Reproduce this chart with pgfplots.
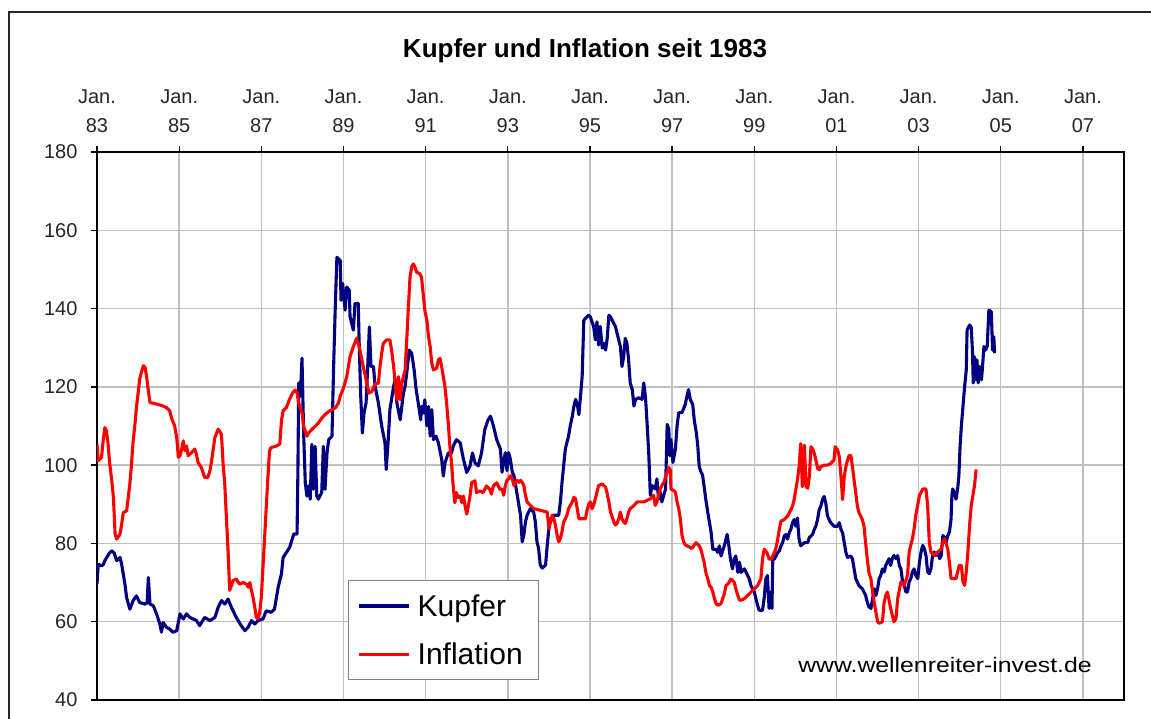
\documentclass[border=0pt]{standalone}
\usepackage{fontspec}
\setmainfont{Liberation Sans}
\usepackage{graphicx}
\usepackage{pgfplots}
\pgfplotsset{compat=1.18}
\definecolor{kupfer}{RGB}{0,0,128}
\definecolor{infl}{RGB}{255,0,0}
\definecolor{gridgray}{RGB}{192,192,192}
\begin{document}
\begin{tikzpicture}[x=1pt,y=1pt]
\useasboundingbox (0,0) rectangle (1151,719);
\fill[white] (0,0) rectangle (1151,719);
\draw[line width=2pt, black!85] (9,0) -- (9,707) -- (1151,707);
\node[font=\bfseries\fontsize{26}{30}\selectfont, anchor=base] at (585,661) {Kupfer und Inflation seit 1983};
\begin{axis}[
  at={(97pt,19pt)}, anchor=south west,
  scale only axis, width=1027pt, height=548pt,
  xmin=1983, xmax=2008, ymin=40, ymax=180,
  xtick={1983,1985,1987,1989,1991,1993,1995,1997,1999,2001,2003,2005,2007},
  xticklabels={{Jan.\\83},{Jan.\\85},{Jan.\\87},{Jan.\\89},{Jan.\\91},{Jan.\\93},{Jan.\\95},{Jan.\\97},{Jan.\\99},{Jan.\\01},{Jan.\\03},{Jan.\\05},{Jan.\\07}},
  xtick pos=right, xticklabel pos=right,
  ytick={40,60,...,180}, ytick pos=left,
  grid=major,
  major grid style={draw=gridgray, line width=1.4pt},
  axis line style={black, line width=1.5pt},
  tick style={black, line width=1.3pt},
  tick align=outside,
  major tick length=6pt,
  xticklabel style={align=center, font=\fontsize{20}{28.5}\selectfont, text=black!85, yshift=10pt},
  yticklabel style={font=\fontsize{20}{24}\selectfont, text=black!85, xshift=-10pt},
  /pgf/number format/assume math mode=true,
  legend style={at={(0.2444,0.219)}, anchor=north west, draw=gray, line width=1pt, fill=white,
    font=\fontsize{30}{36}\selectfont, inner xsep=9pt, inner ysep=11pt, row sep=19pt,
    nodes={inner xsep=7pt, inner ysep=3pt, anchor=west}},
  legend cell align=left,
  legend image code/.code={\draw[#1, line width=3.2pt] (0pt,0pt) -- (50pt,0pt);},
]
\addplot[kupfer, line width=3.1pt, line join=round] coordinates {
(1983.00,69.6)(1983.03,74.7)(1983.10,74.3)(1983.15,74.5)(1983.19,75.6)(1983.30,77.5)(1983.36,78.1)(1983.42,77.5)
(1983.48,75.6)(1983.56,76.4)(1983.60,74.7)(1983.68,69.6)(1983.72,66.2)(1983.80,63.2)(1983.88,65.4)(1983.96,66.6)
(1984.04,64.9)(1984.17,64.5)(1984.22,64.8)(1984.25,71.3)(1984.29,64.5)(1984.37,64.1)(1984.45,62.0)(1984.53,59.4)
(1984.57,57.3)(1984.61,59.8)(1984.69,58.6)(1984.77,58.1)(1984.85,57.3)(1984.94,57.7)(1985.02,62.0)(1985.10,60.7)
(1985.18,62.0)(1985.26,61.1)(1985.42,60.3)(1985.50,59.0)(1985.62,61.1)(1985.75,60.3)(1985.87,61.1)(1985.95,63.7)
(1986.03,65.4)(1986.11,64.5)(1986.19,65.8)(1986.27,63.7)(1986.39,61.1)(1986.51,59.0)(1986.60,57.7)(1986.68,58.6)
(1986.76,60.3)(1986.84,59.4)(1986.92,60.3)(1987.04,60.7)(1987.12,62.8)(1987.24,62.4)(1987.32,63.2)(1987.41,68.8)
(1987.49,72.2)(1987.53,76.4)(1987.61,77.7)(1987.69,79.0)(1987.79,82.4)(1987.87,82.4)(1987.89,98.0)(1987.91,121.0)
(1987.95,117.6)(1987.99,127.3)(1988.03,108.2)(1988.07,95.5)(1988.11,92.1)(1988.15,94.7)(1988.19,91.3)(1988.23,105.3)
(1988.27,93.8)(1988.31,104.8)(1988.35,92.1)(1988.39,91.3)(1988.47,93.0)(1988.51,104.8)(1988.55,93.8)(1988.60,103.2)
(1988.64,106.5)(1988.72,107.4)(1988.76,125.2)(1988.80,140.4)(1988.84,153.1)(1988.92,152.3)(1988.94,142.1)(1988.98,146.4)
(1989.04,139.6)(1989.08,145.5)(1989.14,144.7)(1989.16,137.9)(1989.24,134.5)(1989.28,141.3)(1989.36,141.3)(1989.38,132.0)
(1989.42,117.6)(1989.46,108.2)(1989.50,113.3)(1989.55,115.9)(1989.59,125.2)(1989.63,135.3)(1989.67,125.2)(1989.73,125.2)
(1989.77,120.1)(1989.85,115.9)(1989.93,110.0)(1990.01,105.7)(1990.04,98.9)(1990.09,106.5)(1990.13,114.2)(1990.22,120.1)
(1990.26,121.8)(1990.30,115.9)(1990.38,111.6)(1990.46,118.4)(1990.50,120.1)(1990.54,123.5)(1990.60,129.4)(1990.66,128.6)
(1990.72,124.3)(1990.77,119.2)(1990.82,115.9)(1990.88,111.6)(1990.90,115.0)(1990.94,113.3)(1990.98,116.7)(1991.03,110.0)
(1991.07,115.0)(1991.11,107.4)(1991.15,114.2)(1991.19,106.5)(1991.25,107.4)(1991.31,105.7)(1991.39,101.5)(1991.43,97.2)
(1991.47,100.6)(1991.55,103.1)(1991.63,103.1)(1991.67,104.8)(1991.75,106.5)(1991.84,105.7)(1991.92,101.5)(1992.00,98.1)
(1992.08,99.8)(1992.14,103.1)(1992.20,100.6)(1992.28,99.8)(1992.36,103.1)(1992.44,109.1)(1992.52,111.6)(1992.58,112.5)
(1992.65,110.0)(1992.73,106.5)(1992.82,104.1)(1992.86,98.2)(1992.90,100.7)(1992.94,103.2)(1992.98,98.6)(1993.02,103.2)
(1993.06,101.6)(1993.11,98.2)(1993.15,97.3)(1993.23,92.3)(1993.31,87.2)(1993.35,80.4)(1993.39,82.1)(1993.43,85.5)
(1993.47,87.2)(1993.55,88.9)(1993.63,88.0)(1993.67,85.5)(1993.71,80.4)(1993.75,78.7)(1993.79,74.5)(1993.84,73.7)
(1993.92,74.5)(1993.96,79.6)(1994.00,83.8)(1994.04,86.3)(1994.12,87.2)(1994.24,87.2)(1994.28,90.6)(1994.32,95.6)
(1994.36,99.9)(1994.40,104.1)(1994.44,105.8)(1994.48,107.5)(1994.52,110.0)(1994.57,112.5)(1994.61,115.1)(1994.65,116.8)
(1994.69,115.5)(1994.73,112.9)(1994.77,117.6)(1994.81,122.7)(1994.85,137.0)(1994.89,137.5)(1994.97,138.3)(1995.01,137.9)
(1995.05,136.6)(1995.09,135.4)(1995.13,132.0)(1995.17,136.6)(1995.21,130.7)(1995.25,135.4)(1995.30,129.9)(1995.34,131.1)
(1995.38,129.4)(1995.42,132.4)(1995.46,138.3)(1995.50,137.9)(1995.58,136.2)(1995.62,135.4)(1995.66,133.7)(1995.70,132.0)
(1995.74,130.3)(1995.78,125.2)(1995.82,127.7)(1995.86,132.4)(1995.90,131.1)(1995.94,126.9)(1995.98,121.0)(1996.03,119.3)
(1996.07,115.1)(1996.11,116.8)(1996.19,117.2)(1996.27,116.8)(1996.31,121.0)(1996.35,117.6)(1996.39,110.8)(1996.43,103.2)
(1996.47,92.3)(1996.51,94.8)(1996.59,93.9)(1996.63,96.5)(1996.67,91.4)(1996.71,93.1)(1996.75,90.6)(1996.84,93.9)
(1996.88,110.4)(1996.92,109.2)(1996.94,102.4)(1996.97,106.6)(1997.02,100.7)(1997.08,104.1)(1997.12,110.0)(1997.16,113.4)
(1997.24,113.4)(1997.32,115.5)(1997.36,117.6)(1997.40,119.3)(1997.44,116.8)(1997.50,115.6)(1997.54,111.4)(1997.58,108.9)
(1997.62,105.5)(1997.66,99.6)(1997.70,98.3)(1997.74,97.5)(1997.78,94.5)(1997.82,91.2)(1997.87,87.8)(1997.91,85.3)
(1997.95,82.7)(1997.99,78.5)(1998.07,78.5)(1998.11,77.7)(1998.15,79.4)(1998.19,76.8)(1998.27,79.4)(1998.34,82.3)
(1998.38,79.4)(1998.42,76.0)(1998.47,73.5)(1998.51,76.0)(1998.55,76.8)(1998.60,72.6)(1998.64,75.2)(1998.68,72.6)
(1998.76,73.5)(1998.80,72.6)(1998.84,71.8)(1998.88,70.9)(1998.92,69.2)(1999.00,67.6)(1999.08,64.2)(1999.12,62.9)
(1999.20,62.9)(1999.24,65.9)(1999.28,70.9)(1999.32,71.8)(1999.36,63.4)(1999.41,67.6)(1999.43,63.4)(1999.45,76.0)
(1999.49,76.0)(1999.53,76.8)(1999.57,77.7)(1999.61,78.1)(1999.65,79.4)(1999.69,80.2)(1999.73,81.9)(1999.77,82.3)
(1999.81,81.1)(1999.85,82.7)(1999.89,83.6)(1999.93,85.3)(1999.97,86.1)(2000.01,84.4)(2000.05,86.5)(2000.09,81.1)
(2000.13,79.4)(2000.22,80.2)(2000.30,80.2)(2000.34,81.5)(2000.42,82.3)(2000.46,83.6)(2000.50,84.4)(2000.54,86.1)
(2000.58,88.6)(2000.62,89.5)(2000.66,91.2)(2000.70,92.0)(2000.74,90.3)(2000.78,87.1)(2000.82,86.1)(2000.86,85.3)
(2000.94,84.4)(2001.03,84.4)(2001.07,85.3)(2001.11,83.6)(2001.15,82.7)(2001.19,80.2)(2001.23,77.7)(2001.27,76.4)
(2001.35,76.8)(2001.39,76.0)(2001.43,73.5)(2001.47,71.0)(2001.55,69.2)(2001.63,68.4)(2001.67,67.6)(2001.71,66.7)
(2001.75,65.0)(2001.79,63.8)(2001.84,63.4)(2001.88,65.9)(2001.92,68.4)(2001.96,66.7)(2002.00,68.4)(2002.04,71.0)
(2002.08,71.9)(2002.12,73.5)(2002.16,72.7)(2002.20,74.4)(2002.24,75.2)(2002.28,76.1)(2002.32,74.4)(2002.36,76.1)
(2002.40,76.9)(2002.45,76.1)(2002.49,76.9)(2002.53,74.4)(2002.57,73.5)(2002.61,70.2)(2002.65,69.3)(2002.69,67.6)
(2002.73,67.6)(2002.77,70.2)(2002.81,71.0)(2002.85,72.7)(2002.89,73.5)(2002.93,71.9)(2002.98,71.0)(2003.02,75.2)
(2003.06,77.8)(2003.10,79.5)(2003.14,78.6)(2003.18,76.9)(2003.22,72.7)(2003.26,72.3)(2003.30,73.5)(2003.34,76.9)
(2003.38,77.8)(2003.42,76.9)(2003.47,77.8)(2003.51,76.1)(2003.55,76.9)(2003.59,82.0)(2003.63,81.6)(2003.67,80.3)
(2003.71,82.0)(2003.75,82.9)(2003.79,86.2)(2003.81,92.2)(2003.83,93.9)(2003.87,93.0)(2003.91,91.3)(2003.95,93.9)
(2003.98,97.2)(2004.01,104.9)(2004.04,109.9)(2004.08,115.0)(2004.12,120.1)(2004.16,124.3)(2004.18,134.5)(2004.24,135.8)
(2004.28,135.3)(2004.31,129.4)(2004.33,121.0)(2004.36,127.7)(2004.39,121.8)(2004.42,126.9)(2004.45,121.0)(2004.49,125.2)
(2004.53,121.8)(2004.55,124.3)(2004.59,130.3)(2004.63,129.4)(2004.67,130.3)(2004.71,139.6)(2004.77,139.2)(2004.80,129.4)
(2004.83,132.8)(2004.85,128.6)
};
\addlegendentry{Kupfer}
\addplot[infl, line width=3.1pt, line join=round] coordinates {
(1983.00,105.4)(1983.03,101.1)(1983.11,102.0)(1983.15,106.2)(1983.19,109.6)(1983.23,108.8)(1983.27,105.4)(1983.31,100.3)
(1983.36,96.0)(1983.40,91.7)(1983.44,82.4)(1983.48,81.1)(1983.56,82.4)(1983.60,84.9)(1983.64,87.9)(1983.72,88.3)
(1983.76,91.7)(1983.80,95.2)(1983.84,100.3)(1983.88,106.2)(1983.92,110.0)(1983.96,114.7)(1984.04,122.0)(1984.08,123.7)
(1984.13,125.4)(1984.17,125.0)(1984.21,122.4)(1984.25,119.0)(1984.29,116.0)(1984.45,115.6)(1984.61,115.1)(1984.69,114.7)
(1984.77,113.9)(1984.81,112.2)(1984.89,110.0)(1984.94,107.1)(1984.98,102.0)(1985.02,102.4)(1985.06,104.1)(1985.10,106.2)
(1985.14,103.7)(1985.18,104.9)(1985.22,102.4)(1985.30,103.2)(1985.38,104.1)(1985.42,102.8)(1985.46,100.7)(1985.54,99.4)
(1985.62,96.9)(1985.70,96.9)(1985.75,98.6)(1985.79,101.1)(1985.83,104.1)(1985.87,107.1)(1985.95,109.2)(1986.03,107.9)
(1986.07,100.3)(1986.11,95.2)(1986.15,86.6)(1986.19,78.1)(1986.23,68.0)(1986.27,69.2)(1986.31,70.5)(1986.39,70.9)
(1986.47,69.6)(1986.56,70.0)(1986.64,69.6)(1986.68,68.8)(1986.72,70.0)(1986.76,68.0)(1986.80,66.2)(1986.84,63.7)
(1986.88,61.1)(1986.92,60.7)(1986.96,62.4)(1987.00,66.2)(1987.04,73.9)(1987.08,81.5)(1987.12,89.2)(1987.16,96.9)
(1987.20,103.7)(1987.24,104.5)(1987.37,104.9)(1987.45,105.4)(1987.49,111.3)(1987.53,113.9)(1987.61,114.7)(1987.69,116.9)
(1987.77,118.6)(1987.83,119.2)(1987.87,118.4)(1987.91,115.9)(1987.99,113.3)(1988.03,109.9)(1988.07,108.7)(1988.11,107.4)
(1988.15,108.2)(1988.23,109.1)(1988.31,109.9)(1988.39,110.8)(1988.47,112.0)(1988.55,112.9)(1988.64,113.7)(1988.72,114.2)
(1988.80,114.6)(1988.88,115.9)(1988.92,117.6)(1989.00,119.7)(1989.08,122.6)(1989.12,125.2)(1989.16,127.7)(1989.24,130.3)
(1989.32,132.4)(1989.36,131.1)(1989.40,129.4)(1989.45,126.9)(1989.50,124.3)(1989.57,120.9)(1989.62,118.4)(1989.69,118.8)
(1989.77,120.8)(1989.85,120.9)(1989.89,125.2)(1989.93,128.6)(1989.97,131.1)(1990.05,132.0)(1990.13,132.0)(1990.17,129.4)
(1990.22,125.2)(1990.26,120.9)(1990.30,116.7)(1990.34,122.6)(1990.38,116.7)(1990.42,120.9)(1990.46,122.6)(1990.50,124.3)
(1990.54,132.0)(1990.58,140.4)(1990.62,148.0)(1990.66,150.6)(1990.70,151.4)(1990.74,150.6)(1990.78,149.3)(1990.86,148.9)
(1990.90,148.0)(1990.94,143.8)(1990.98,139.6)(1991.03,137.0)(1991.07,132.8)(1991.11,130.3)(1991.15,126.0)(1991.19,124.3)
(1991.27,124.8)(1991.31,126.9)(1991.35,127.3)(1991.39,125.2)(1991.43,122.6)(1991.47,120.1)(1991.51,115.9)(1991.55,110.8)
(1991.59,104.8)(1991.63,100.6)(1991.67,94.7)(1991.71,90.4)(1991.75,93.0)(1991.79,91.7)(1991.84,92.1)(1991.88,90.4)
(1991.92,92.1)(1991.96,89.6)(1992.00,87.5)(1992.04,89.6)(1992.08,92.1)(1992.12,95.5)(1992.20,96.0)(1992.24,93.0)
(1992.32,93.4)(1992.40,93.0)(1992.48,94.7)(1992.56,93.8)(1992.60,92.6)(1992.65,94.7)(1992.73,95.5)(1992.81,93.8)
(1992.86,93.9)(1992.90,92.3)(1992.94,94.8)(1992.98,96.1)(1993.02,96.5)(1993.06,97.3)(1993.11,96.5)(1993.15,94.8)
(1993.19,95.6)(1993.23,96.1)(1993.27,95.6)(1993.31,96.1)(1993.35,95.6)(1993.39,94.8)(1993.43,92.3)(1993.47,90.6)
(1993.55,89.7)(1993.63,88.9)(1993.96,88.0)(1994.00,83.8)(1994.04,85.5)(1994.08,87.2)(1994.12,86.3)(1994.16,84.7)
(1994.20,82.1)(1994.24,80.4)(1994.28,81.3)(1994.32,83.0)(1994.36,85.5)(1994.40,86.3)(1994.44,87.2)(1994.48,88.9)
(1994.52,89.7)(1994.57,90.6)(1994.61,91.8)(1994.65,91.4)(1994.69,88.9)(1994.73,86.3)(1994.89,86.3)(1994.93,88.5)
(1994.97,90.1)(1995.01,90.6)(1995.05,88.9)(1995.09,89.7)(1995.13,91.4)(1995.17,93.1)(1995.21,94.8)(1995.30,95.2)
(1995.38,94.4)(1995.42,92.7)(1995.46,90.6)(1995.50,88.0)(1995.54,86.8)(1995.58,85.5)(1995.62,84.7)(1995.66,85.1)
(1995.70,86.3)(1995.74,88.0)(1995.78,86.3)(1995.82,85.5)(1995.86,85.1)(1995.90,86.3)(1995.94,88.0)(1995.98,88.9)
(1996.03,89.3)(1996.07,89.7)(1996.15,90.6)(1996.31,90.6)(1996.39,91.0)(1996.47,91.4)(1996.55,92.3)(1996.59,89.7)
(1996.63,90.6)(1996.67,92.3)(1996.71,93.9)(1996.75,94.8)(1996.80,95.6)(1996.84,96.9)(1996.88,98.2)(1996.92,99.4)
(1996.96,98.6)(1996.97,93.9)(1997.04,93.5)(1997.08,93.1)(1997.12,90.6)(1997.16,88.9)(1997.20,86.3)(1997.24,82.1)
(1997.28,80.4)(1997.32,79.6)(1997.40,79.2)(1997.48,78.7)(1997.58,80.2)(1997.66,79.4)(1997.70,78.5)(1997.74,76.8)
(1997.78,75.2)(1997.82,72.6)(1997.87,70.9)(1997.91,69.2)(1997.95,68.8)(1997.99,67.6)(1998.03,65.9)(1998.07,64.6)
(1998.11,64.2)(1998.19,64.6)(1998.23,65.9)(1998.27,67.1)(1998.31,69.2)(1998.35,69.6)(1998.39,70.1)(1998.43,70.9)
(1998.47,70.5)(1998.51,70.1)(1998.55,68.4)(1998.60,66.7)(1998.64,65.5)(1998.68,65.5)(1998.76,65.9)(1998.84,66.7)
(1998.92,67.6)(1999.00,68.4)(1999.08,69.2)(1999.12,70.1)(1999.16,70.9)(1999.20,76.0)(1999.24,78.5)(1999.28,78.1)
(1999.32,77.3)(1999.36,76.0)(1999.41,76.0)(1999.45,76.8)(1999.49,77.7)(1999.53,78.9)(1999.57,81.1)(1999.61,83.6)
(1999.65,85.7)(1999.73,86.1)(1999.81,87.0)(1999.85,87.8)(1999.89,88.6)(1999.93,89.5)(1999.97,91.2)(2000.01,93.7)
(2000.05,96.2)(2000.09,99.6)(2000.13,105.5)(2000.17,94.5)(2000.22,105.1)(2000.26,94.5)(2000.30,94.1)(2000.34,97.1)
(2000.38,104.7)(2000.42,104.2)(2000.46,103.0)(2000.50,101.3)(2000.54,99.2)(2000.58,98.8)(2000.62,99.6)(2000.70,100.0)
(2000.78,100.0)(2000.86,100.4)(2000.94,101.3)(2000.97,104.7)(2001.03,103.8)(2001.07,102.1)(2001.11,97.1)(2001.15,91.2)
(2001.19,97.1)(2001.23,99.6)(2001.27,101.3)(2001.31,102.5)(2001.35,102.5)(2001.39,99.6)(2001.43,96.2)(2001.47,92.9)
(2001.51,89.5)(2001.55,87.8)(2001.59,87.0)(2001.63,86.1)(2001.67,84.4)(2001.71,80.2)(2001.75,76.0)(2001.79,72.6)
(2001.84,70.9)(2001.88,67.6)(2001.92,64.9)(2001.96,62.5)(2002.00,60.0)(2002.04,59.6)(2002.12,60.0)(2002.16,64.9)
(2002.20,66.7)(2002.24,67.6)(2002.32,63.4)(2002.40,60.0)(2002.45,60.8)(2002.49,65.9)(2002.57,70.2)(2002.65,69.3)
(2002.73,71.8)(2002.77,77.8)(2002.85,81.2)(2002.89,83.7)(2002.93,87.1)(2003.02,92.2)(2003.10,93.9)(2003.18,93.9)
(2003.22,89.6)(2003.26,80.3)(2003.30,77.8)(2003.38,76.9)(2003.47,77.8)(2003.55,78.6)(2003.59,80.3)(2003.63,81.2)
(2003.71,78.6)(2003.75,75.2)(2003.79,71.0)(2003.91,71.0)(2003.99,74.4)(2004.04,74.4)(2004.08,70.2)(2004.12,69.3)
(2004.16,72.7)(2004.20,77.8)(2004.24,84.5)(2004.28,89.6)(2004.36,94.7)(2004.40,98.9)
};
\addlegendentry{Inflation}
\end{axis}
\node[font=\fontsize{21}{25}\selectfont, anchor=base] at (945,46) {\scalebox{1.18}[1]{www.wellenreiter-invest.de}};
\end{tikzpicture}
\end{document}
